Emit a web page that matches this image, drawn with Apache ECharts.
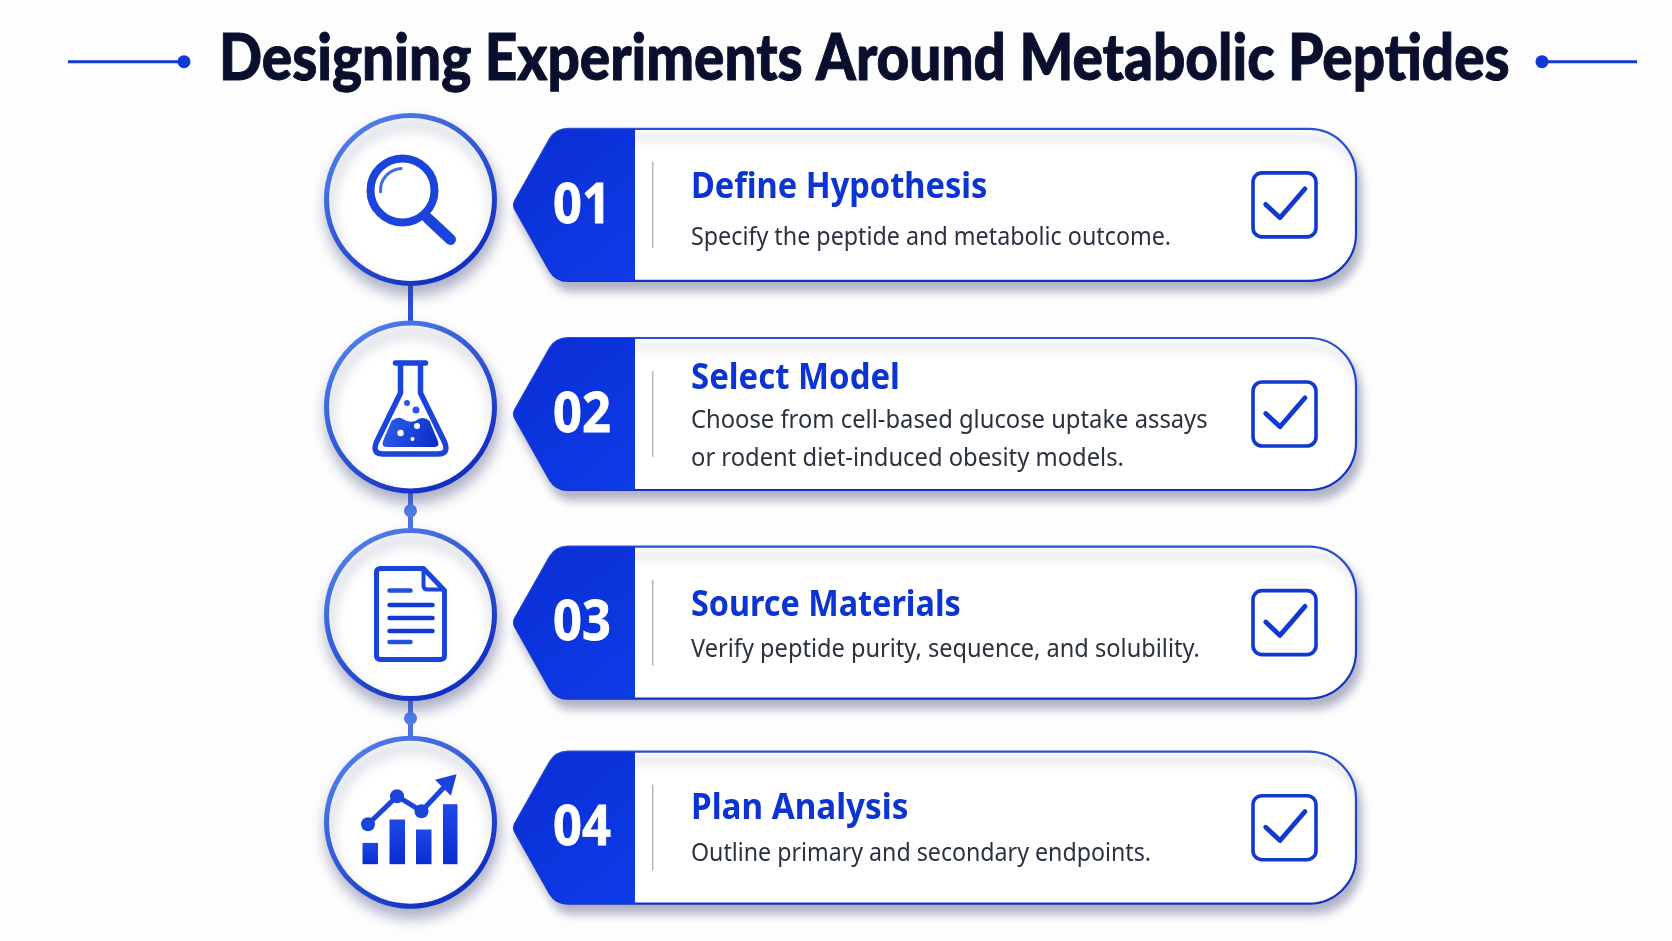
<!DOCTYPE html>
<html>
<head>
<meta charset="utf-8">
<title>Designing Experiments Around Metabolic Peptides</title>
<script src="https://cdn.jsdelivr.net/npm/echarts@6/dist/echarts.min.js"></script>
<style>
  html, body { margin: 0; padding: 0; background: #fdfdfe; }
  #chart { width: 1672px; height: 941px; }
</style>
</head>
<body>
<div id="chart"></div>
<script>
var chartTitle = 'Designing Experiments Around Metabolic Peptides';
var stepNumbers = ['01', '02', '03', '04'];
var stepTitles = ['Define Hypothesis', 'Select Model', 'Source Materials', 'Plan Analysis'];
var stepLines = [
  ['Specify the peptide and metabolic outcome.'],
  ['Choose from cell-based glucose uptake assays', 'or rodent diet-induced obesity models.'],
  ['Verify peptide purity, sequence, and solubility.'],
  ['Outline primary and secondary endpoints.']
];
var stepIcons = ['search', 'flask', 'document', 'growth'];

// layout, in px from the row centre the y axis gives
var circleX = 410.5, circleR = 84;
var cardNudge = [5.5, 7, 8, 5.5];
var titleNudge = [-17.5, -35, -17, -18.5];
var bodyNudge = [[33], [7, 45], [27.5], [26.5]];
var numberNudge = 2;
var titleFit = [0.905, 0.914, 0.898, 0.923];
var bodyFit = [0.913, 0.932, 0.925, 0.909];

var BLUE = '#1238d6';
var font = '"Noto Sans"';

function grad(x, y, x2, y2, c1, c2) {
  return { type: 'linear', x: x, y: y, x2: x2, y2: y2, colorStops: [{ offset: 0, color: c1 }, { offset: 1, color: c2 }] };
}
function p(d, style) {
  return { type: 'path', shape: { pathData: d }, style: style };
}
function line(x1, y1, x2, y2, w, color) {
  return { type: 'line', shape: { x1: x1, y1: y1, x2: x2, y2: y2 }, style: { stroke: color || BLUE, lineWidth: w, lineCap: 'round' } };
}
function dot(cx, cy, r, color) {
  return { type: 'circle', shape: { cx: cx, cy: cy, r: r }, style: { fill: color || BLUE } };
}

// icons are drawn around the circle centre
var iconDrawers = {
  search: function () {
    return [
      { type: 'circle', shape: { cx: -8, cy: -9, r: 32 }, style: { fill: 'none', stroke: '#1a44dc', lineWidth: 8 } },
      line(17, 18.5, 40, 40, 11, '#1a44dc'),
      { type: 'arc', shape: { cx: -8, cy: -9, r: 22, startAngle: Math.PI * 0.98, endAngle: Math.PI * 1.48 }, style: { fill: 'none', stroke: '#3f6ce4', lineWidth: 3, lineCap: 'round' } }
    ];
  },
  flask: function () {
    var outline = 'M-10,-43 L-10,-14 L-34,35 Q-39,47 -27,47 L27,47 Q39,47 34,35 L10,-14 L10,-43';
    var liquid = 'M-19,14 Q-12,8 -6,13 Q2,17 8,12 Q14,9 19,14 L27,33 Q30,40 24,40 L-24,40 Q-30,40 -27,33 Z';
    return [
      p(outline, { fill: 'none', stroke: '#1a44dc', lineWidth: 5.5, lineJoin: 'round' }),
      line(-15, -44, 15, -44, 5.5, '#1a44dc'),
      p(liquid, { fill: grad(0, 0, 1, 1, '#2f62ee', '#0a28c4') }),
      dot(-3.5, -4, 3, '#2a58e4'), dot(5.5, 3, 3.5, '#2a58e4'),
      dot(-10, 26, 3.2, '#ffffff'), dot(6.5, 19, 3, '#ffffff'), dot(2, 32, 2, '#ffffff')
    ];
  },
  document: function () {
    var sheet = 'M-30,-46 L13,-46 L34,-24 L34,41 Q34,45 30,45 L-30,45 Q-34,45 -34,41 L-34,-42 Q-34,-46 -30,-46 Z';
    return [
      p(sheet, { fill: '#ffffff', stroke: '#1a44dc', lineWidth: 5, lineJoin: 'round' }),
      p('M13,-46 L13,-29 Q13,-25 17,-25 L34,-25', { fill: 'none', stroke: '#1a44dc', lineWidth: 4, lineJoin: 'round' }),
      line(-21, -24, 0, -24, 4.5, '#2450e0'),
      line(-21, -9.5, 22, -9.5, 4.5),
      line(-21, 3.5, 22, 3.5, 4.5),
      line(-21, 16.5, 22, 16.5, 4.5),
      line(-21, 27.5, 0, 27.5, 4.5, '#2450e0')
    ];
  },
  growth: function () {
    var bars = [[-48, 20.7, 15.5], [-21, -2.7, 15.5], [5.5, 7.3, 15.5], [32.5, -18, 14.5]];
    var out = bars.map(function (b) {
      return { type: 'rect', shape: { x: b[0], y: b[1], width: b[2], height: 42 - b[1] }, style: { fill: grad(0, 0, 0, 1, '#1d4ae6', '#0a2bd0') } };
    });
    out.push(p('M-42.5,2 L-13.5,-26 L11,-11 L41,-43', { fill: 'none', stroke: '#1a44dc', lineWidth: 5, lineJoin: 'round' }));
    out.push(p('M45,-47 L26,-42 L40,-28 Z', { fill: '#1a44dc', stroke: '#1a44dc', lineWidth: 1.5 }));
    out.push(dot(-42.5, 2, 7, '#1a44dc'), dot(-13.5, -26, 7, '#1a44dc'), dot(11, -11, 7, '#1a44dc'));
    return out;
  }
};

function renderConnector(params, api) {
  var i = api.value(1);
  if (i === 0) return;
  var x = api.coord([circleX, i])[0];
  var y0 = api.coord([circleX, i - 1])[1] + circleR + 2;
  var y1 = api.coord([circleX, i])[1] - circleR - 2;
  var kids = [{ type: 'line', shape: { x1: x, y1: y0, x2: x, y2: y1 }, style: { stroke: i === 1 ? '#2a50dc' : '#4a74e6', lineWidth: 5 } }];
  if (i > 1) kids.push({ type: 'circle', shape: { cx: x, cy: (y0 + y1) / 2, r: 6.5 }, style: { fill: '#4f7cea' } });
  return { type: 'group', children: kids };
}

function renderCircle(params, api) {
  var i = api.value(1);
  var c = api.coord([circleX, i]);
  var ring = {
    type: 'circle',
    shape: { cx: 0, cy: 0, r: circleR },
    style: {
      fill: '#ffffff', stroke: grad(0.1, 0, 0.8, 1, '#5685f0', '#0c28bc'), lineWidth: 5,
      shadowBlur: 14, shadowOffsetX: 2, shadowOffsetY: 9, shadowColor: 'rgba(50,60,110,0.38)'
    }
  };
  return { type: 'group', x: c[0], y: c[1], children: [ring].concat(iconDrawers[stepIcons[i]]()) };
}

function renderCard(params, api) {
  var i = api.value(1);
  var y = api.coord([0, i])[1] + cardNudge[i];
  var x = function (v) { return api.coord([v, i])[0]; };
  var outline = 'M568,-76 L1309,-76 A47,47 0 0 1 1356,-29 L1356,29 A47,47 0 0 1 1309,76 L568,76 ' +
    'Q556,76 550,66 L515,4 Q513,0 515,-4 L550,-66 Q556,-76 568,-76 Z';
  var tab = 'M635,-76 L568,-76 Q556,-76 550,-66 L515,-4 Q513,0 515,4 L550,66 Q556,76 568,76 L635,76 Z';
  var kids = [
    p(outline, {
      fill: '#ffffff', stroke: grad(0, 0, 0, 1, '#2c4fd6', '#1430bc'), lineWidth: 2.2,
      shadowBlur: 10, shadowOffsetX: 4, shadowOffsetY: 9, shadowColor: 'rgba(60,66,110,0.4)'
    }),
    p(tab, { fill: grad(0, 0, 1, 1, '#0a2dd4', '#0e3ce6') }),
    { type: 'line', shape: { x1: 652.7, y1: -43, x2: 652.7, y2: 43 }, style: { stroke: '#b4b8c0', lineWidth: 1.6 } },
    {
      type: 'text', x: x(582), y: numberNudge, scaleX: 0.92,
      style: { text: stepNumbers[i], fill: '#ffffff', stroke: '#ffffff', lineWidth: 0.8, font: 'bold 55px ' + font, textAlign: 'center', textVerticalAlign: 'middle' }
    },
    {
      type: 'text', x: x(691), y: titleNudge[i], scaleX: titleFit[i],
      style: { text: stepTitles[i], fill: '#0b34d2', font: 'bold 36px ' + font, textAlign: 'left', textVerticalAlign: 'middle' }
    },
    { type: 'rect', shape: { x: 1253, y: -32, width: 63, height: 64, r: 9 }, style: { fill: 'none', stroke: '#1238d0', lineWidth: 3.6 } },
    p('M1265.7,-0.5 L1280,12.8 L1305,-16.2', { fill: 'none', stroke: '#1238d0', lineWidth: 4.8, lineCap: 'round', lineJoin: 'round' })
  ];
  stepLines[i].forEach(function (t, k) {
    kids.push({
      type: 'text', x: x(691), y: bodyNudge[i][k], scaleX: bodyFit[i],
      style: { text: t, fill: '#2b3140', font: '25.5px ' + font, textAlign: 'left', textVerticalAlign: 'middle' }
    });
  });
  return { type: 'group', y: y, children: kids };
}

var rows = stepNumbers.map(function (n, i) { return [0, i]; });

var chart = echarts.init(document.getElementById('chart'));
chart.setOption({
  animation: false,
  backgroundColor: '#fdfdfe',
  grid: { left: 0, top: 95.6, width: 1672, height: 830.4 },
  xAxis: { type: 'value', min: 0, max: 1672, show: false },
  yAxis: { type: 'category', data: stepNumbers, inverse: true, show: false },
  graphic: [
    {
      type: 'text', x: 219, y: 59, scaleX: 0.872,
      style: { text: chartTitle, fill: '#0a0f2e', stroke: '#0a0f2e', lineWidth: 1, font: '900 65px Lato', textAlign: 'left', textVerticalAlign: 'middle' }
    },
    { type: 'line', shape: { x1: 68, y1: 61.7, x2: 184, y2: 61.7 }, style: { stroke: BLUE, lineWidth: 3 } },
    { type: 'circle', shape: { cx: 184, cy: 61.7, r: 6.5 }, style: { fill: BLUE } },
    { type: 'line', shape: { x1: 1542, y1: 61.7, x2: 1637, y2: 61.7 }, style: { stroke: BLUE, lineWidth: 3 } },
    { type: 'circle', shape: { cx: 1542, cy: 61.7, r: 6.5 }, style: { fill: BLUE } }
  ],
  series: [
    { type: 'custom', coordinateSystem: 'cartesian2d', data: rows, renderItem: renderConnector, silent: true, z: 1 },
    { type: 'custom', coordinateSystem: 'cartesian2d', data: rows, renderItem: renderCircle, silent: true, z: 2 },
    { type: 'custom', coordinateSystem: 'cartesian2d', data: rows, renderItem: renderCard, silent: true, z: 3 }
  ]
});
</script>
</body>
</html>
